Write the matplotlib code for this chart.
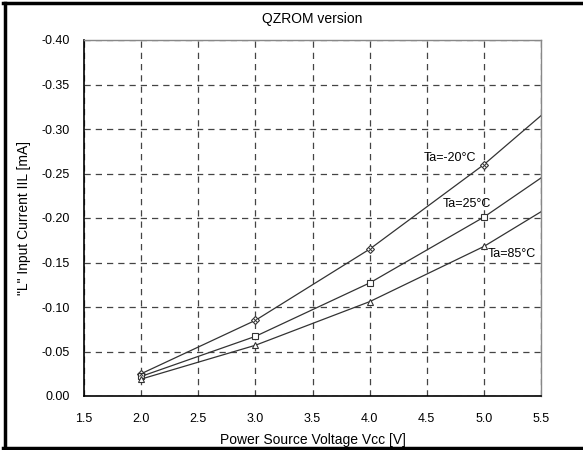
import matplotlib
matplotlib.use("Agg")
import matplotlib.pyplot as plt
from matplotlib.lines import Line2D

plt.rcParams['font.family'] = ['Liberation Sans', 'DejaVu Sans']

vcc = [2.0, 3.0, 4.0, 5.0]
vcc_line_end = 5.5
labels = ["Ta=-20°C", "Ta=25°C", "Ta=85°C"]
iil_m20 = [-0.025, -0.085, -0.165, -0.260]
iil_25 = [-0.022, -0.067, -0.127, -0.201]
iil_85 = [-0.019, -0.057, -0.106, -0.168]
end_m20 = -0.315
end_25 = -0.245
end_85 = -0.207
xticks = [1.5, 2.0, 2.5, 3.0, 3.5, 4.0, 4.5, 5.0, 5.5]
yticks = [0.0, -0.05, -0.10, -0.15, -0.20, -0.25, -0.30, -0.35, -0.40]

fig = plt.figure(figsize=(5.83, 4.5), dpi=100)
ax = fig.add_axes([84/583, 1-396/450, (541-84)/583, (396-40)/450])

series = [(iil_m20, end_m20, 'D', 3.8), (iil_25, end_25, 's', 4.2), (iil_85, end_85, '^', 4.5)]
for vals, end, mk, ms in series:
    ax.plot(vcc + [vcc_line_end], vals + [end], color='#333333', lw=0.9)
    ax.plot(vcc, vals, linestyle='none', marker=mk, ms=ms, mfc='white',
            mec='#333333', mew=0.8)
ax.plot(vcc, iil_m20, linestyle='none', marker='x', ms=2.5, color='#333333', mew=0.7)

ax.text(4.47, -0.267, labels[0], fontsize=9, va='center', ha='left')
ax.text(4.64, -0.216, labels[1], fontsize=9, va='center', ha='left')
ax.text(5.03, -0.160, labels[2], fontsize=9, va='center', ha='left')

ax.set_xlim(1.5, 5.5)
ax.set_ylim(0.0, -0.40)
ax.set_xticks(xticks)
ax.set_xticklabels([f"{v:.1f}" for v in xticks], fontsize=9)
ax.set_yticks(yticks)
ax.set_yticklabels([f"{v:.2f}" if v != 0 else "0.00" for v in yticks], fontsize=9)
ax.tick_params(length=0, pad=10)
ax.tick_params(axis='x', pad=12)
ax.grid(True, color='#444444', linestyle=(0, (5, 4)), lw=0.9)
for s in ['top', 'right']:
    ax.spines[s].set_color('#888888')
    ax.spines[s].set_linewidth(1.0)
for s in ['left', 'bottom']:
    ax.spines[s].set_color('black')
    ax.spines[s].set_linewidth(1.2)

ax.set_title("QZROM version", fontsize=10, pad=12)
ax.set_xlabel("Power Source Voltage Vcc [V]", fontsize=10, labelpad=6)
ax.set_ylabel('"L" Input Current IIL [mA]', fontsize=10, labelpad=8)

# figure frame (left, top, bottom)
fig.add_artist(Line2D([4.5/583, 4.5/583], [0, 1-3/450], transform=fig.transFigure, color='black', lw=2.5))
fig.add_artist(Line2D([3/583, 1], [1-3/450, 1-3/450], transform=fig.transFigure, color='black', lw=2.5))
fig.add_artist(Line2D([3/583, 1], [2/450, 2/450], transform=fig.transFigure, color='black', lw=2.5))

fig.savefig("out.png", dpi=100)
